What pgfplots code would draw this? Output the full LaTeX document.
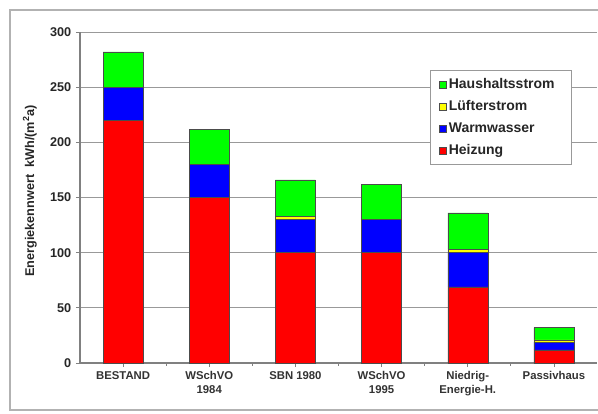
\documentclass[border=0pt]{standalone}
\usepackage{pgfplots}
\pgfplotsset{compat=1.18}
\usepackage{fontspec}
\setmainfont{Liberation Sans}
\definecolor{cgreen}{HTML}{00FF00}
\definecolor{cyellow}{HTML}{FFFF00}
\definecolor{cblue}{HTML}{0000FF}
\definecolor{cred}{HTML}{FF0000}
\begin{document}
\begin{tikzpicture}
\path[use as bounding box] (-60pt,-37.5pt) rectangle (388.5pt,272.25pt);
\fill[white] (-60pt,-37.5pt) rectangle (388.5pt,272.25pt);
\draw[black!30, line width=1.2pt] (388.5pt,264.75pt) -- (-52.5pt,264.75pt) -- (-52.5pt,-35.25pt) -- (388.5pt,-35.25pt);
\begin{axis}[
  at={(0,0)}, anchor=south west,
  scale only axis, width=387.75pt, height=248.25pt,
  ybar stacked, bar width=30pt,
  ymin=0, ymax=300, ytick={0,50,...,300},
  xmin=-0.5, xmax=5.5,
  xtick={0,...,5},
  xticklabels={BESTAND, {WSchVO\\1984}, SBN 1980, {WSchVO\\1995}, {Niedrig-\\Energie-H.}, Passivhaus},
  minor xtick={0.5,1.5,2.5,3.5,4.5},
  axis x line*=bottom, axis y line*=left,
  axis line style={draw=gray, line width=0.8pt, -},
  tick align=outside,
  major tick length=3pt, minor tick length=2pt,
  tick style={draw=gray, line width=0.6pt},
  ymajorgrids, major grid style={draw=gray!80, line width=0.7pt},
  /pgf/number format/assume math mode=true,
  yticklabel style={font=\bfseries\fontsize{9.5}{11}\selectfont, text=black!85},
  xticklabel style={align=center, font=\bfseries\fontsize{8.5}{10}\selectfont, text=black!80},
  ylabel={Energiekennwert\ \ kWh/(m\textsuperscript{2}a)},
  ylabel style={font=\bfseries\fontsize{9.5}{11}\selectfont, text=black!85},
  every axis y label/.append style={at={(axis description cs:-0.097,0.52)}, anchor=center},
  reverse legend,
  legend cell align=left,
  legend style={at={(rel axis cs:0.677,0.885)}, anchor=north west, draw=gray!80, line width=0.8pt,
    font=\bfseries\fontsize{10.5}{12}\selectfont, text=black!85, inner xsep=6pt, inner ysep=4pt, row sep=3.5pt,
    text width=84pt},
  legend image code/.code={\draw[#1, line width=0.3pt] (0cm,-0.09cm) rectangle (0.19cm,0.1cm);},
  every axis plot/.append style={draw=black!70, line width=0.3pt},
]
\addplot[fill=cred] coordinates {(0,220) (1,150) (2,100) (3,100) (4,69) (5,12)};
\addplot[fill=cblue] coordinates {(0,30) (1,30) (2,30) (3,30) (4,31) (5,7)};
\addplot[fill=cyellow] coordinates {(0,0) (1,0) (2,3) (3,0) (4,3) (5,2)};
\addplot[fill=cgreen] coordinates {(0,32) (1,32) (2,33) (3,32) (4,33) (5,11)};
\legend{Heizung, Warmwasser, Lüfterstrom, Haushaltsstrom}
\end{axis}
\end{tikzpicture}
\end{document}
